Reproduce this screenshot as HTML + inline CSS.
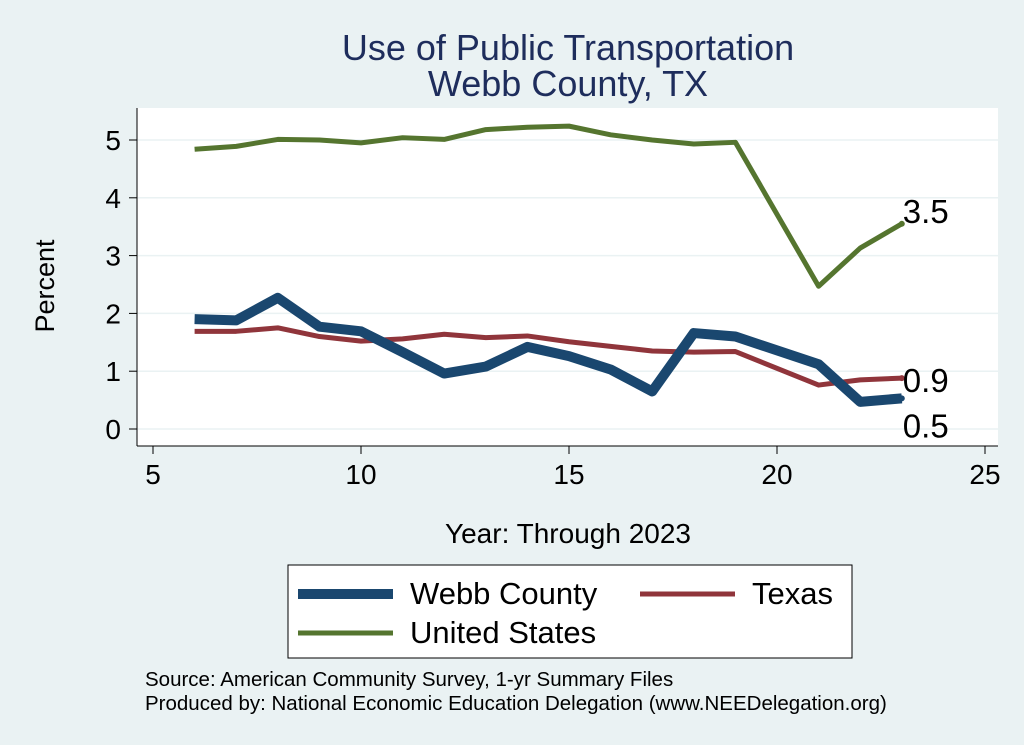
<!DOCTYPE html>
<html><head><meta charset="utf-8"><style>
body{margin:0;background:#eaf2f3;}
svg{display:block;font-family:"Liberation Sans",Arial,sans-serif;}
</style></head><body>
<svg width="1024" height="745" viewBox="0 0 1024 745">
<rect x="0" y="0" width="1024" height="745" fill="#eaf2f3"/>
<rect x="137" y="108" width="861" height="338" fill="#ffffff"/>
<text x="568" y="60" font-size="36" fill="#1e2d5c" text-anchor="middle">Use of Public Transportation</text>
<text x="568" y="96" font-size="36" fill="#1e2d5c" text-anchor="middle">Webb County, TX</text>
<g id="grid"></g><g id="axes"></g><g id="series"></g>
<text x="54" y="286" font-size="27" text-anchor="middle" transform="rotate(-90 54 286)">Percent</text>
<text x="568" y="543" font-size="28" text-anchor="middle">Year: Through 2023</text>
<g>
<rect x="288" y="565" width="564" height="93" fill="#fff" stroke="#000" stroke-width="1"/>
<g><line x1="298" y1="594" x2="393" y2="594" stroke="#1a476f" stroke-width="10"/><text x="410" y="604" font-size="31">Webb County</text></g>
<g><line x1="640" y1="594" x2="735" y2="594" stroke="#90353b" stroke-width="5"/><text x="752" y="604" font-size="31">Texas</text></g>
<g><line x1="298" y1="633" x2="393" y2="633" stroke="#55752f" stroke-width="5"/><text x="410" y="643" font-size="31">United States</text></g>
</g>
<text x="145" y="686" font-size="20.5">Source: American Community Survey, 1-yr Summary Files</text>
<text x="145" y="710" font-size="20.5">Produced by: National Economic Education Delegation (www.NEEDelegation.org)</text>
</svg>
<script>
const years=[6,7,8,9,10,11,12,13,14,15,16,17,18,19,21,22,23];
const webb=[1.9,1.88,2.27,1.77,1.69,1.33,0.96,1.08,1.42,1.26,1.03,0.65,1.66,1.60,1.12,0.47,0.53];
const texas=[1.69,1.69,1.75,1.6,1.52,1.56,1.64,1.58,1.61,1.51,1.43,1.35,1.33,1.34,0.76,0.85,0.88];
const us=[4.84,4.89,5.01,5.00,4.95,5.04,5.01,5.18,5.22,5.24,5.09,5.00,4.93,4.96,2.47,3.13,3.55];
const xTicks=[5,10,15,20,25];
const yTicks=[0,1,2,3,4,5];
const NS="http://www.w3.org/2000/svg";
const xs=v=>153+(v-5)*41.6;
const ys=v=>429-v*57.8;
function mk(t,a,p){const e=document.createElementNS(NS,t);for(const k in a)e.setAttribute(k,a[k]);p.appendChild(e);return e;}
const grid=document.getElementById('grid'),axes=document.getElementById('axes'),ser=document.getElementById('series');
yTicks.forEach(t=>{
 const g=mk('line',{x1:137,x2:998,y1:ys(t),y2:ys(t),stroke:'#eaf2f3','stroke-width':1.5},grid);
 
 
 const tk=mk('line',{x1:129,x2:137,y1:ys(t),y2:ys(t),stroke:'#000'},axes);
 
 
 const tx=mk('text',{x:121,y:ys(t)+10,'font-size':28,'text-anchor':'end'},axes);tx.textContent=t;
 
 
});
xTicks.forEach(t=>{
 const tk=mk('line',{x1:xs(t),x2:xs(t),y1:446,y2:454,stroke:'#000'},axes);
 
 
 const tx=mk('text',{x:xs(t),y:484,'font-size':28,'text-anchor':'middle'},axes);tx.textContent=t;
 
 
});
const ax1=mk('line',{x1:137,x2:137,y1:108,y2:446,stroke:'#000'},axes);


const ax2=mk('line',{x1:137,x2:998,y1:446,y2:446,stroke:'#000'},axes);


function line(vals,col,w,name,dy){
 const p=mk('polyline',{points:years.map((y,i)=>xs(y)+','+ys(vals[i])).join(' '),fill:'none',stroke:col,'stroke-width':w,'stroke-linejoin':'round'},ser);
 
 
 const n=vals.length-1;
 const d=mk('circle',{cx:xs(years[n]),cy:ys(vals[n]),r:3,fill:col},ser);
 
 
 const t=mk('text',{x:xs(years[n])+1,y:ys(vals[n])+dy,'font-size':33},ser);t.textContent=vals[n].toFixed(1);
 
 
}
line(us,'#55752f',5,'us-line',-1);
line(texas,'#90353b',5,'texas-line',14);
line(webb,'#1a476f',10,'webb-line',39);
</script>
</body></html>
